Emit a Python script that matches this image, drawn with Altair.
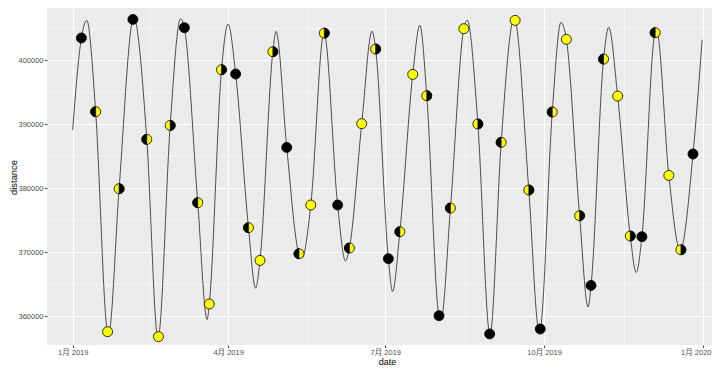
import altair as alt
import pandas as pd

# ---- data ----
curve_dates = ["2019-01-01T00:00", "2019-12-31T12:00"]
curve_values = [389100, 403170]

apogee_dates = ["2019-01-09T04:00", "2019-02-05T09:00", "2019-03-04T11:00", "2019-04-01T00:00",
                "2019-04-28T18:00", "2019-05-26T13:00", "2019-06-23T08:00", "2019-07-21T01:00",
                "2019-08-17T11:00", "2019-09-13T14:00", "2019-10-10T18:00", "2019-11-07T09:00",
                "2019-12-05T04:00"]
apogee_values = [406190, 406560, 406450, 405620, 404470, 404250, 404500, 405410,
                 406220, 406420, 405880, 405090, 404500]

perigee_dates = ["2019-01-21T20:00", "2019-02-19T09:00", "2019-03-19T20:00", "2019-04-16T22:00",
                 "2019-05-13T22:00", "2019-06-07T23:00", "2019-07-05T05:00", "2019-08-02T07:00",
                 "2019-08-30T16:00", "2019-09-28T02:00", "2019-10-26T11:00", "2019-11-23T08:00",
                 "2019-12-18T20:00"]
perigee_values = [357340, 356650, 359450, 364350, 369150, 368600, 363850, 359500,
                  357120, 357700, 361400, 366800, 370250]

new_dates = ["2019-01-06T01:00", "2019-02-04T21:00", "2019-03-06T16:00", "2019-04-05T09:00",
             "2019-05-04T23:00", "2019-06-03T10:00", "2019-07-02T19:00", "2019-08-01T03:00",
             "2019-08-30T11:00", "2019-09-28T18:00", "2019-10-28T04:00", "2019-11-26T15:00",
             "2019-12-26T05:00"]
new_values = [403440, 406340, 405050, 397810, 386340, 377340, 368950, 360050,
              357200, 357970, 364780, 372390, 385310]

full_dates = ["2019-01-21T05:00", "2019-02-19T16:00", "2019-03-21T02:00", "2019-04-19T11:00",
              "2019-05-18T21:00", "2019-06-17T09:00", "2019-07-16T22:00", "2019-08-15T12:00",
              "2019-09-14T05:00", "2019-10-13T21:00", "2019-11-12T14:00", "2019-12-12T05:00"]
full_values = [357550, 356780, 361880, 368690, 377340, 390050, 397750, 404890,
               406190, 403220, 394360, 381970]

q1_dates = ["2019-01-14T07:00", "2019-02-12T22:00", "2019-03-14T10:00", "2019-04-12T19:00",
            "2019-05-12T01:00", "2019-06-10T06:00", "2019-07-09T11:00", "2019-08-07T18:00",
            "2019-09-06T03:00", "2019-10-05T17:00", "2019-11-04T10:00", "2019-12-04T07:00"]
q1_values = [391920, 387600, 377700, 373800, 369730, 370620, 373170, 376870,
             387130, 391870, 400140, 404270]

q3_dates = ["2019-01-27T21:00", "2019-02-26T11:00", "2019-03-28T04:00", "2019-04-26T22:00",
            "2019-05-26T17:00", "2019-06-25T10:00", "2019-07-25T01:00", "2019-08-23T15:00",
            "2019-09-22T03:00", "2019-10-21T13:00", "2019-11-19T21:00", "2019-12-19T05:00"]
q3_values = [379890, 389780, 398480, 401300, 404200, 401720, 394420, 390000,
             379690, 375670, 372500, 370350]

x_ticks = [alt.DateTime(year=2019, month=1, date=1), alt.DateTime(year=2019, month=4, date=1),
           alt.DateTime(year=2019, month=7, date=1), alt.DateTime(year=2019, month=10, date=1),
           alt.DateTime(year=2020, month=1, date=1)]
x_minor = [alt.DateTime(year=2019, month=2, date=15), alt.DateTime(year=2019, month=5, date=16, hours=12),
           alt.DateTime(year=2019, month=8, date=16), alt.DateTime(year=2019, month=11, date=16)]
y_ticks = [360000, 370000, 380000, 390000, 400000]
y_minor = [365000, 375000, 385000, 395000, 405000]

# ---- tables ----
line_df = pd.DataFrame({
    "date": curve_dates + apogee_dates + perigee_dates + new_dates + full_dates + q1_dates + q3_dates,
    "distance": curve_values + apogee_values + perigee_values + new_values + full_values + q1_values + q3_values,
}).sort_values("date").reset_index(drop=True)

yellow_df = pd.DataFrame({"date": full_dates + q1_dates + q3_dates,
                          "distance": full_values + q1_values + q3_values})
new_df = pd.DataFrame({"date": new_dates, "distance": new_values})
q1_df = pd.DataFrame({"date": q1_dates, "distance": q1_values})
q3_df = pd.DataFrame({"date": q3_dates, "distance": q3_values})

FONT = "Liberation Sans, Arial, Noto Sans CJK SC, sans-serif"
xs = alt.Scale(domain=[alt.DateTime(year=2018, month=12, date=17, hours=3),
                       alt.DateTime(year=2020, month=1, date=6, hours=5)], nice=False)
ys = alt.Scale(domain=[355470, 408125], nice=False, zero=False)

x_major_axis = alt.Axis(values=x_ticks, format="%-m月 %Y", grid=True, gridColor="white", gridWidth=1.1,
                        ticks=True, tickColor="#333333", tickSize=2.5, tickWidth=0.9,
                        labelFontSize=7.5, labelColor="#4D4D4D", labelPadding=1, labelFont=FONT,
                        labelFlush=10, labelFlushOffset=8, labelOverlap=False, domain=False,
                        title="date", titleFontSize=9, titleFontWeight="normal", titleColor="black",
                        titleFont=FONT, titleX=340, titleY=19, titleBaseline="alphabetic")
y_major_axis = alt.Axis(values=y_ticks, format="d", grid=True, gridColor="white", gridWidth=1.1,
                        ticks=True, tickColor="#333333", tickSize=2.5, tickWidth=0.9,
                        labelFontSize=7.5, labelColor="#4D4D4D", labelPadding=1.5, labelFont=FONT,
                        labelFlush=False, labelOverlap=False, domain=False,
                        title="distance", titleFontSize=9.4, titleFontWeight="normal", titleColor="black",
                        titleFont=FONT, titleX=-31, titleY=169, titleBaseline="alphabetic", titleAngle=270)
x_minor_axis = alt.Axis(values=x_minor, orient="top", grid=True, gridColor="white", gridWidth=0.55,
                        ticks=False, labels=False, domain=False, title=None)
y_minor_axis = alt.Axis(values=y_minor, orient="right", grid=True, gridColor="white", gridWidth=0.55,
                        ticks=False, labels=False, domain=False, title=None)

line = alt.Chart(line_df).mark_line(interpolate="monotone", color="#3a3a3a", strokeWidth=0.9).encode(
    x=alt.X("date:T", scale=xs, axis=x_minor_axis),
    y=alt.Y("distance:Q", scale=ys, axis=y_minor_axis),
)

yellow = alt.Chart(yellow_df).mark_point(shape="circle", filled=True, fill="#FFFF00", stroke="black",
                                          strokeWidth=0.8, size=100, opacity=1).encode(
    x=alt.X("date:T", scale=xs, axis=x_major_axis),
    y=alt.Y("distance:Q", scale=ys, axis=y_major_axis),
)

black = alt.Chart(new_df).mark_point(shape="circle", filled=True, fill="black", stroke="black",
                                      strokeWidth=0.8, size=100, opacity=1).encode(
    x=alt.X("date:T", scale=xs, axis=None),
    y=alt.Y("distance:Q", scale=ys, axis=None),
)

LEFT_HALF = "M0,-1 C-0.552,-1 -1,-0.552 -1,0 C-1,0.552 -0.552,1 0,1 Z"
RIGHT_HALF = "M0,-1 C0.552,-1 1,-0.552 1,0 C1,0.552 0.552,1 0,1 Z"

q1_half = alt.Chart(q1_df).mark_point(shape=LEFT_HALF, filled=True, fill="black", stroke="black",
                                       strokeWidth=0.6, size=100, opacity=1).encode(
    x=alt.X("date:T", scale=xs, axis=None),
    y=alt.Y("distance:Q", scale=ys, axis=None),
)
q3_half = alt.Chart(q3_df).mark_point(shape=RIGHT_HALF, filled=True, fill="black", stroke="black",
                                       strokeWidth=0.6, size=100, opacity=1).encode(
    x=alt.X("date:T", scale=xs, axis=None),
    y=alt.Y("distance:Q", scale=ys, axis=None),
)

chart = alt.layer(line, yellow, black, q1_half, q3_half).resolve_axis(
    x="independent", y="independent"
).properties(
    width=665, height=337,
    padding={"left": 39, "top": 0, "right": 0, "bottom": 22},
    autosize=alt.AutoSizeParams(type="none"),
    background="white",
).configure_view(fill="#EBEBEB", strokeWidth=0)

chart.save("out.html", embed_options={"renderer": "svg", "actions": False})
